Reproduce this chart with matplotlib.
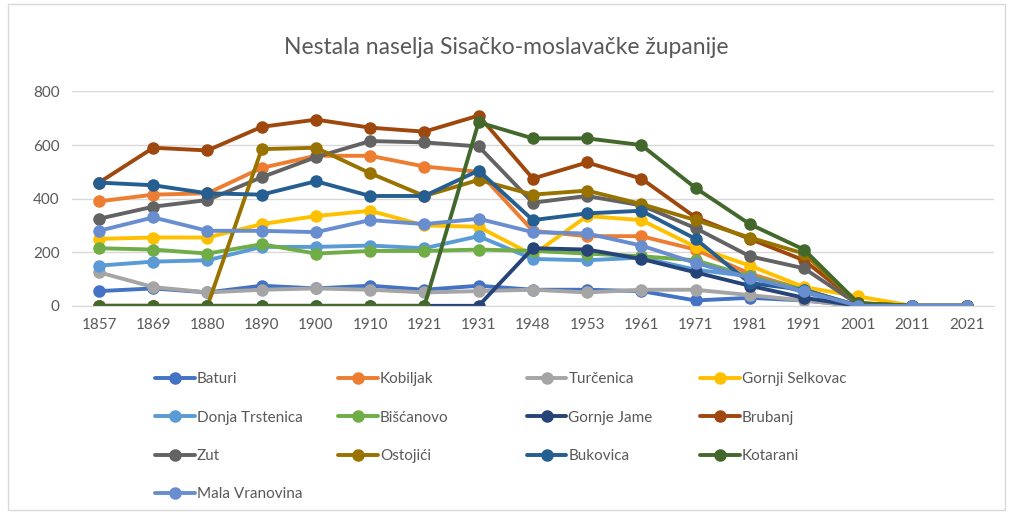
import matplotlib
matplotlib.use("Agg")
import matplotlib.pyplot as plt
from matplotlib.patches import Rectangle

plt.rcParams['font.family'] = ['Lato', 'DejaVu Sans']

years = ['1857', '1869', '1880', '1890', '1900', '1910', '1921', '1931', '1948',
         '1953', '1961', '1971', '1981', '1991', '2001', '2011', '2021']

# stanovnistvo po popisima (procjena s grafa)
baturi = [55, 65, 50, 75, 65, 75, 60, 75, 60, 60, 55, 20, 30, 20, 0, 0, 0]
kobiljak = [390, 415, 420, 515, 560, 560, 520, 500, 280, 260, 260, 210, 120, 60, 0, 0, 0]
turcenica = [125, 70, 50, 60, 65, 60, 50, 55, 60, 50, 60, 60, 40, 20, 0, 0, 0]
gornji_selkovac = [250, 255, 255, 305, 335, 355, 300, 295, 190, 335, 320, 220, 150, 70, 35, 0, 0]
donja_trstenica = [150, 165, 170, 220, 220, 225, 215, 260, 175, 170, 180, 135, 110, 50, 0, 0, 0]
biscanovo = [215, 210, 195, 230, 195, 205, 205, 210, 205, 195, 185, 170, 110, 60, 0, 0, 0]
gornje_jame = [0, 0, 0, 0, 0, 0, 0, 0, 215, 210, 175, 125, 75, 30, 0, 0, 0]
brubanj = [460, 590, 580, 668, 695, 665, 650, 710, 475, 535, 475, 330, 250, 170, 10, 0, 0]
zut = [325, 370, 395, 480, 555, 615, 610, 595, 385, 410, 375, 290, 185, 140, 5, 0, 0]
ostojici = [0, 0, 0, 585, 590, 495, 410, 470, 415, 430, 380, 320, 255, 195, 10, 0, 0]
bukovica = [460, 450, 420, 415, 465, 410, 410, 505, 320, 345, 355, 250, 85, 60, 0, 0, 0]
kotarani = [0, 0, 0, 0, 0, 0, 0, 685, 625, 625, 600, 440, 305, 210, 10, 0, 0]
mala_vranovina = [280, 330, 280, 280, 275, 320, 305, 325, 275, 270, 225, 160, 105, 55, 0, 0, 0]

series = [
    ('Baturi', baturi, '#4472C4'),
    ('Kobiljak', kobiljak, '#ED7D31'),
    ('Turčenica', turcenica, '#A5A5A5'),
    ('Gornji Selkovac', gornji_selkovac, '#FFC000'),
    ('Donja Trstenica', donja_trstenica, '#5B9BD5'),
    ('Bišćanovo', biscanovo, '#70AD47'),
    ('Gornje Jame', gornje_jame, '#264478'),
    ('Brubanj', brubanj, '#9E480E'),
    ('Zut', zut, '#636363'),
    ('Ostojići', ostojici, '#997300'),
    ('Bukovica', bukovica, '#255E91'),
    ('Kotarani', kotarani, '#43682B'),
    ('Mala Vranovina', mala_vranovina, '#698ED0'),
]

fig = plt.figure(figsize=(10.13, 5.14), dpi=100)
ax = fig.add_axes([0.071, 0.405, 0.91, 0.417])

x = list(range(len(years)))
handles = {}
for name, vals, col in series:
    h, = ax.plot(x, vals, color=col, lw=2.8, marker='o', ms=8,
                 markeredgecolor=col, label=name, solid_capstyle='round')
    handles[name] = h

ax.set_xlim(-0.5, len(years) - 0.5)
ax.set_ylim(0, 800)
ax.set_yticks([0, 200, 400, 600, 800])
ax.set_xticks(x)
ax.set_xticklabels(years)
ax.tick_params(length=0, labelsize=11, colors='#595959', pad=9)
ax.grid(axis='y', color='#d9d9d9', lw=1)
ax.set_axisbelow(True)
for s in ax.spines.values():
    s.set_visible(False)
ax.spines['bottom'].set_visible(True)
ax.spines['bottom'].set_color('#d9d9d9')

fig.text(0.5, 0.907, 'Nestala naselja Sisačko-moslavačke županije',
         ha='center', va='center', fontsize=16.5, color='#595959')

# legenda red po red, stupci jednake sirine kao u Excelu
ncol = 4
names = [s[0] for s in series]
col_x = [0.153, 0.334, 0.520, 0.691]
for c in range(ncol):
    col_names = names[c::ncol]
    fig.legend([handles[n] for n in col_names], col_names, frameon=False,
               loc='upper left', bbox_to_anchor=(col_x[c], 0.276),
               fontsize=11, labelcolor='#595959', handlelength=2.6,
               handletextpad=0.13, labelspacing=1.6,
               borderaxespad=0, borderpad=0)

fig.patches.append(Rectangle((0.008, 0.008), 0.984, 0.984, transform=fig.transFigure,
                             fill=False, edgecolor='#d9d9d9', lw=1))

fig.savefig('out.png', dpi=100, facecolor='white')
